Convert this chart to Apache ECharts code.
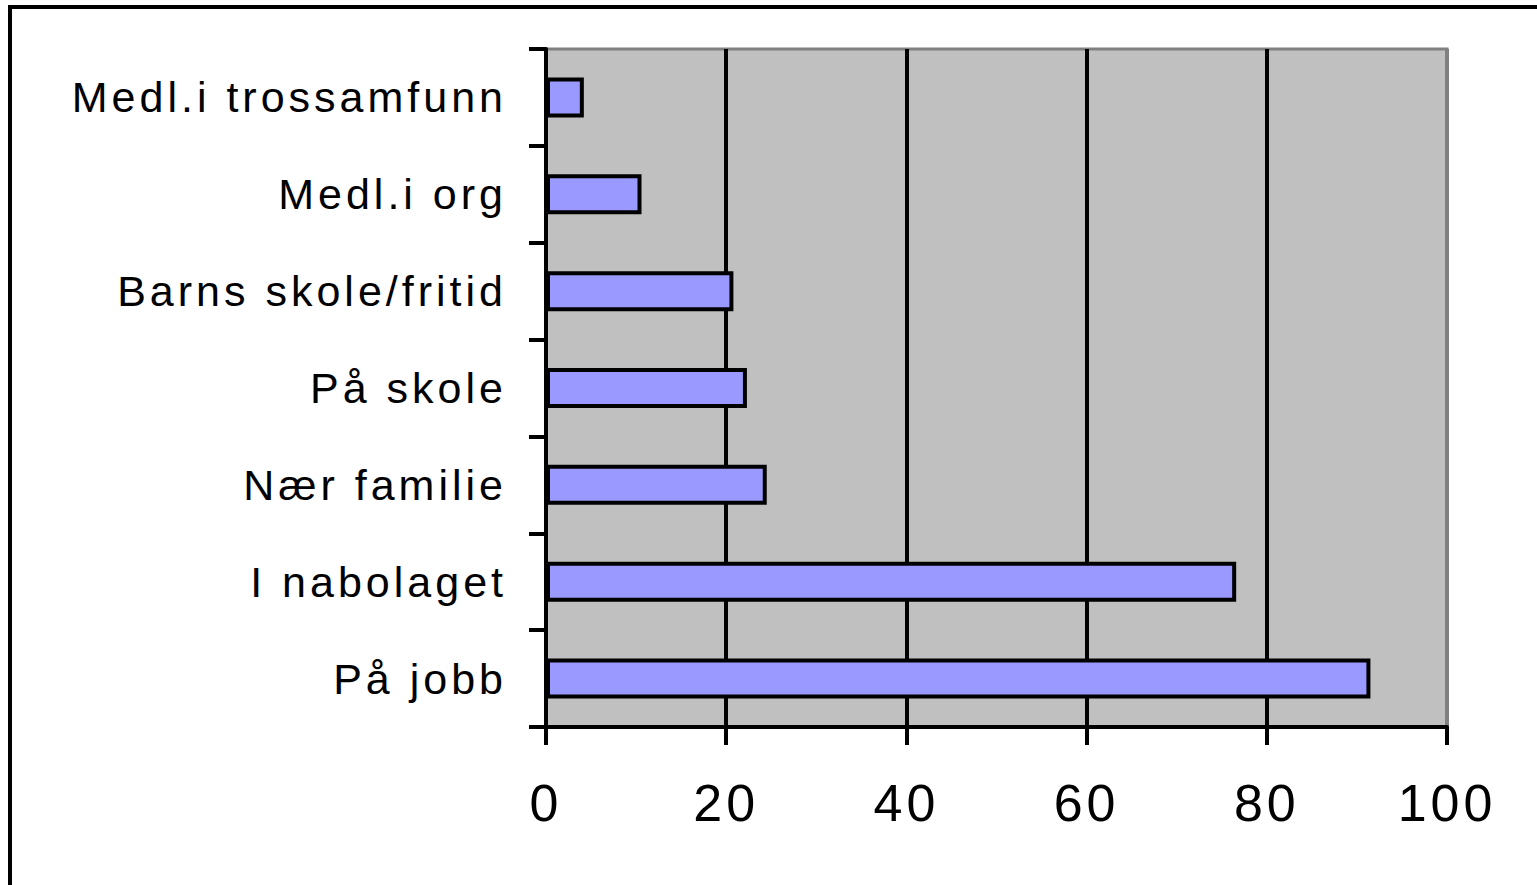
<!DOCTYPE html>
<html>
<head>
<meta charset="utf-8">
<script src="https://cdn.jsdelivr.net/npm/echarts@6/dist/echarts.min.js"></script>
<style>
html,body{margin:0;padding:0;background:#fff;}
#chart{width:1537px;height:885px;}
#chart text{letter-spacing:4px;}
</style>
</head>
<body>
<div id="chart"></div>
<script>
const categories = ['Medl.i trossamfunn','Medl.i org','Barns skole/fritid','På skole','Nær familie','I nabolaget','På jobb'];
const values = [4.2, 10.6, 20.8, 22.3, 24.5, 76.6, 91.5];
const xTicks = [0, 20, 40, 60, 80, 100];

const chart = echarts.init(document.getElementById('chart'), null, {renderer:'svg'});
chart.setOption({
  animation:false,
  backgroundColor:'#ffffff',
  graphic:[{
    type:'rect', z:100,
    shape:{x:10, y:7, width:1600, height:1000},
    style:{fill:'none', stroke:'#000', lineWidth:4}
  }],
  grid:{left:546, top:49, right:90, bottom:158, show:true,
        backgroundColor:'#C0C0C0', borderColor:'#808080', borderWidth:3},
  xAxis:{
    type:'value', min:xTicks[0], max:xTicks[xTicks.length-1], interval:20,
    axisLine:{show:true, lineStyle:{color:'#000', width:4}},
    axisTick:{show:true, length:18, lineStyle:{color:'#000', width:4}},
    axisLabel:{color:'#000', fontSize:52, fontFamily:'Liberation Sans, Arial, sans-serif', margin:50},
    splitLine:{show:true, lineStyle:{color:['#000','#000','#000','#000','#000','#808080'], width:4}}
  },
  yAxis:{
    type:'category', data:categories, inverse:true,
    axisLine:{show:true, lineStyle:{color:'#000', width:4}},
    axisTick:{show:true, length:17, lineStyle:{color:'#000', width:4}},
    axisLabel:{color:'#000', fontSize:43, fontFamily:'Liberation Sans, Arial, sans-serif', margin:39}
  },
  series:[{
    type:'bar', data:values, barWidth:40,
    itemStyle:{color:'#9999FF', borderColor:'#000', borderWidth:4}
  }]
});
</script>
</body>
</html>
